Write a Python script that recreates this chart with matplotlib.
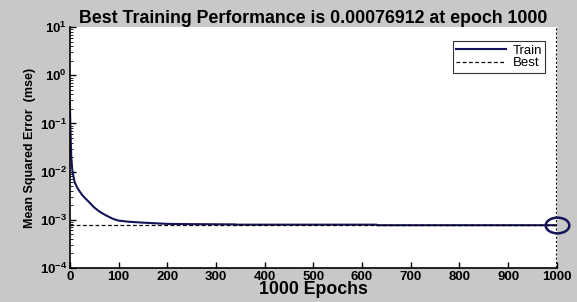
import numpy as np
import matplotlib.pyplot as plt
from matplotlib.path import Path
from matplotlib.transforms import Affine2D

plt.rcParams['font.family'] = ['Liberation Sans', 'DejaVu Sans']
plt.rcParams['mathtext.fontset'] = 'custom'
plt.rcParams['mathtext.rm'] = 'Liberation Sans:bold'
plt.rcParams['mathtext.it'] = 'Liberation Sans:bold'

# training curve
epochs = [0, 1, 2, 3, 5, 8, 10, 15, 20, 25, 30, 40, 50, 60, 70, 80, 90, 100,
          120, 150, 200, 250, 340, 341, 630, 631, 1000]
mse = [0.3, 0.1, 0.04, 0.02, 0.011, 0.0075, 0.006, 0.0047, 0.0039, 0.0033,
       0.0029, 0.0023, 0.0018, 0.0015, 0.0013, 0.00115, 0.00103, 0.00096,
       0.00091, 0.00087, 0.00082, 0.00081, 0.00080, 0.00079, 0.00079,
       0.00077, 0.00077]
best_epoch = 1000
best_mse = 0.00076912
xticks = [0, 100, 200, 300, 400, 500, 600, 700, 800, 900, 1000]
yticks = [1e-4, 1e-3, 1e-2, 1e-1, 1e0, 1e1]

navy = '#14145a'

fig = plt.figure(figsize=(5.77, 3.02), dpi=100, facecolor='#c8c8c8')
ax = fig.add_axes([0.121, 0.113, 0.844, 0.797])

ax.semilogy(epochs, mse, color=navy, lw=1.5, label='Train')
ax.axhline(best_mse, color='black', ls='--', lw=0.9, dashes=(3, 2), label='Best')
ax.axvline(best_epoch, color='black', ls=':', lw=1.5, dashes=(1, 1))

# flattened circle like the stretched original
ellipse = Path.unit_circle().transformed(Affine2D().scale(1.5, 1.0))
ax.plot(best_epoch, best_mse, marker=ellipse, ms=17, mfc='none', mec=navy,
        mew=1.8, clip_on=False)

ax.set_xlim(0, 1000)
ax.set_ylim(1e-4, 1e1)
ax.set_xticks(xticks)
ax.set_yticks(yticks)
ax.set_yticklabels([r'$10^{%d}$' % int(np.log10(v)) for v in yticks])
ax.tick_params(direction='in', labelsize=9.5, width=1, length=4, pad=2)
ax.tick_params(which='minor', direction='in', length=2)
for lab in ax.get_xticklabels():
    lab.set_fontweight('bold')

ax.spines['top'].set_visible(False)
ax.spines['right'].set_visible(False)
ax.spines['left'].set_linewidth(1.2)
ax.spines['bottom'].set_linewidth(1.2)

ax.set_title('Best Training Performance is 0.00076912 at epoch 1000',
             fontsize=12.8, fontweight='bold', pad=3)
ax.set_xlabel('1000 Epochs', fontsize=12.8, fontweight='bold', labelpad=-1)
ax.set_ylabel('Mean Squared Error  (mse)', fontsize=9, fontweight='bold', labelpad=3)

leg = ax.legend(loc='upper right', bbox_to_anchor=(0.99, 0.97), fontsize=9.5,
                frameon=True, fancybox=False, edgecolor='black',
                handlelength=3.8, borderpad=0.25, labelspacing=0.05,
                handletextpad=0.5)
leg.get_frame().set_linewidth(0.8)

fig.savefig('out.png', dpi=100, facecolor=fig.get_facecolor())
